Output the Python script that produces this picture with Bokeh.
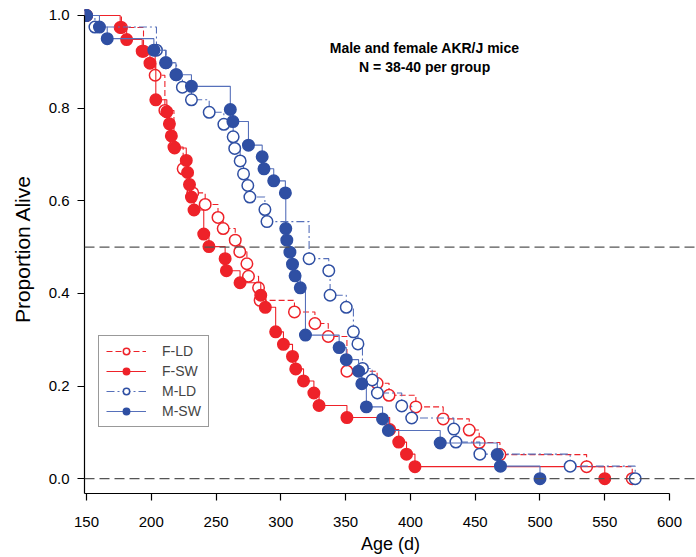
from bokeh.plotting import figure
from bokeh.models import (Range1d, Span, Legend, LegendItem, FixedTicker,
                          Label, PrintfTickFormatter)
from bokeh.embed import file_html
from bokeh.resources import INLINE

# ---------------- data ----------------
series_names = ["F-LD", "F-SW", "M-LD", "M-SW"]

fld_age = [150, 177, 194, 203, 210.5, 217.5, 224.6, 232, 241.6, 251.5, 255.5,
           264.8, 268.3, 273.8, 275, 282.8, 284, 310.5, 326.3, 336.6, 351,
           374.3, 383.5, 404.2, 425.3, 445.4, 453.1, 469.1, 536, 571.2]
fld_p = [1.0, 0.974, 0.923, 0.871, 0.795, 0.716, 0.669, 0.617, 0.592, 0.564,
         0.540, 0.515, 0.490, 0.464, 0.437, 0.412, 0.385, 0.360, 0.335, 0.307,
         0.232, 0.206, 0.180, 0.155, 0.129, 0.105, 0.078, 0.052, 0.026, 0.0]

fsw_age = [150, 176, 181, 193, 199, 203.5, 212, 214, 215.5, 218, 227, 228,
           229.5, 231, 233, 240.5, 244.5, 257, 258, 268.5, 284.5, 288, 296,
           302, 309, 311.5, 317.5, 325.5, 329.5, 351, 384, 391, 397, 403.5, 550]
fsw_p = [1.0, 0.974, 0.948, 0.923, 0.897, 0.818, 0.792, 0.766, 0.740, 0.714,
         0.687, 0.661, 0.635, 0.608, 0.580, 0.528, 0.501, 0.475, 0.449, 0.423,
         0.396, 0.370, 0.317, 0.290, 0.264, 0.237, 0.211, 0.185, 0.158, 0.132,
         0.106, 0.079, 0.053, 0.026, 0.0]

mld_age = [150, 156.5, 204, 211.5, 219.5, 224, 231, 244.7, 256, 263.2, 264.4,
           268.6, 271.2, 274.5, 276.1, 287.7, 289.3, 321.8, 337, 338, 350.5,
           356, 359.5, 363, 370.5, 374.5, 393.3, 401, 433.5, 435.1, 453.6,
           523.3, 573.5]
mld_p = [1.0, 0.975, 0.925, 0.898, 0.872, 0.845, 0.818, 0.791, 0.765, 0.738,
         0.713, 0.686, 0.658, 0.633, 0.608, 0.581, 0.555, 0.475, 0.449, 0.396,
         0.370, 0.317, 0.291, 0.238, 0.213, 0.185, 0.157, 0.131, 0.107, 0.079,
         0.053, 0.027, 0.0]

msw_age = [150, 160, 166, 202, 211, 219, 231, 261, 263, 275, 285.6, 287,
           294.5, 303.5, 303.8, 304.6, 307, 309, 311, 315, 319, 345, 350.5,
           360, 362.5, 366, 378.5, 383, 423, 467, 469.5, 500]
msw_p = [1.0, 0.975, 0.950, 0.925, 0.898, 0.872, 0.847, 0.797, 0.771, 0.720,
         0.695, 0.669, 0.643, 0.617, 0.540, 0.515, 0.489, 0.463, 0.438, 0.412,
         0.310, 0.283, 0.257, 0.232, 0.205, 0.155, 0.129, 0.104, 0.077, 0.052,
         0.027, 0.0]

x_ticks = [150, 200, 250, 300, 350, 400, 450, 500, 550, 600]
y_ticks = [0.0, 0.2, 0.4, 0.6, 0.8, 1.0]
ref_levels = [0.5, 0.0]
title_lines = ["Male and female AKR/J mice", "N = 38-40 per group"]

# ---------------- styling ----------------
RED = "#EE2229"
BLUE = "#2F4FA3"
BLUE_LINE = "#5670BA"
FONT = "Liberation Sans"

X0, X1 = 148.46, 620.8
Y0, Y1 = -0.032, 1.0237

p = figure(width=696, height=557, output_backend="svg", toolbar_location=None,
           x_range=Range1d(X0, X1), y_range=Range1d(Y0, Y1),
           min_border_left=84, min_border_right=0, min_border_top=4,
           min_border_bottom=64)
p.outline_line_color = None
p.xgrid.visible = False
p.ygrid.visible = False
p.background_fill_color = "white"
p.border_fill_color = "white"

for lvl in ref_levels:
    p.add_layout(Span(location=lvl, dimension="width", line_color="#555555",
                      line_width=1.2, line_dash="10 5"))

styles = [
    (fld_age, fld_p, RED, RED, "6 3", "white"),
    (fsw_age, fsw_p, RED, RED, "solid", RED),
    (mld_age, mld_p, BLUE_LINE, BLUE, "8 3 2 3", "white"),
    (msw_age, msw_p, BLUE_LINE, BLUE, "solid", BLUE),
]

items = []
for name, (ax, ay, lc, mc, dash, fill) in zip(series_names, styles):
    lr = p.step(ax, ay, mode="after", line_color=lc, line_width=1.1,
                line_dash=dash)
    sr = p.scatter(ax, ay, marker="circle", size=11.5, line_color=mc,
                   fill_color=fill, line_width=1.5)
    items.append(LegendItem(label=name, renderers=[lr, sr]))

legend = Legend(items=items, location=(14, 66), orientation="vertical",
                glyph_width=40, glyph_height=16, label_height=16,
                label_standoff=16, spacing=4, padding=7, margin=0,
                label_text_font=FONT, label_text_font_size="14px",
                border_line_color="#333333", border_line_width=1.5,
                background_fill_color="white", background_fill_alpha=1.0)
p.add_layout(legend, "center")

# axes
for ax in (p.xaxis, p.yaxis):
    ax.axis_line_color = "black"
    ax.axis_line_width = 1.2
    ax.major_tick_line_color = "black"
    ax.major_tick_line_width = 1.2
    ax.major_tick_out = 7
    ax.major_tick_in = 0
    ax.minor_tick_line_color = None
    ax.major_label_text_font = FONT
    ax.major_label_text_font_size = "15px"
    ax.major_label_text_color = "black"
    ax.axis_label_text_font = FONT
    ax.axis_label_text_font_style = "normal"
    ax.axis_label_text_color = "black"

p.xaxis.ticker = FixedTicker(ticks=x_ticks)
p.yaxis.ticker = FixedTicker(ticks=y_ticks)
p.yaxis.formatter = PrintfTickFormatter(format="%.1f")
p.xaxis.bounds = (X0, 600)
p.yaxis.bounds = (Y0, 1.0)
p.xaxis.axis_label = "Age (d)"
p.yaxis.axis_label = "Proportion Alive"
p.xaxis.axis_label_text_font_size = "18px"
p.yaxis.axis_label_text_font_size = "21px"
p.xaxis.major_label_standoff = 16
p.xaxis.axis_label_standoff = 4
p.yaxis.major_label_standoff = 8
p.yaxis.axis_label_standoff = 12

# title text inside plot
for i, t in enumerate(title_lines):
    p.add_layout(Label(x=411, y=0.929 - i * 0.041, text=t, text_align="center",
                       text_baseline="middle", text_font=FONT,
                       text_font_size="14px", text_font_style="bold",
                       text_color="black"))

open("out.html", "w").write(file_html(p, INLINE))
